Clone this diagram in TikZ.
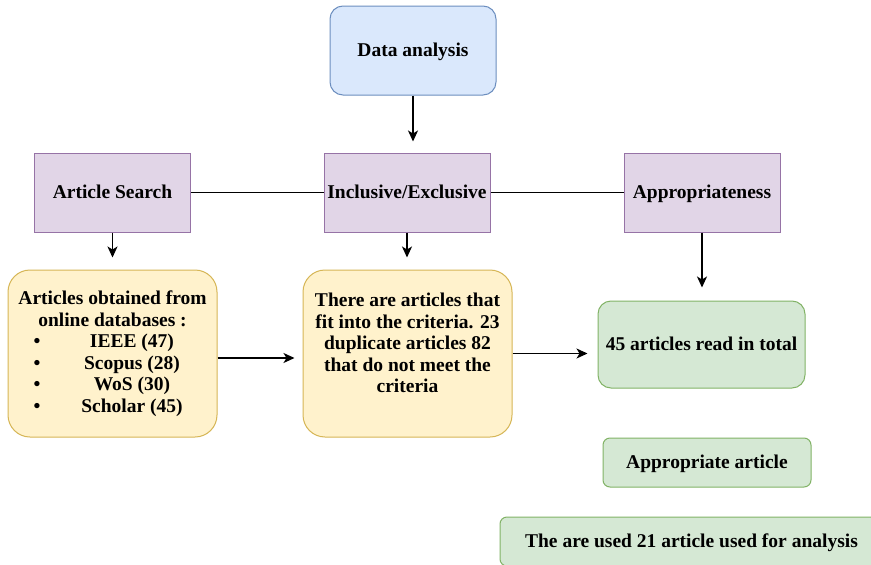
\documentclass[tikz,border=0pt]{standalone}
\usepackage{fontspec}
\setmainfont{Liberation Serif}
\usetikzlibrary{arrows.meta}
\definecolor{blueF}{HTML}{DAE8FC}
\definecolor{blueD}{HTML}{6C8EBF}
\definecolor{purpF}{HTML}{E1D5E7}
\definecolor{purpD}{HTML}{9673A6}
\definecolor{yelF}{HTML}{FFF2CC}
\definecolor{yelD}{HTML}{D6B656}
\definecolor{grnF}{HTML}{D5E8D4}
\definecolor{grnD}{HTML}{82B366}
\tikzset{
  box/.style={draw, line width=1pt, inner sep=0pt, align=center, font=\fontsize{19.5}{21.5}\selectfont\bfseries},
  one/.style={text height=13pt, text depth=1pt},
  bluebox/.style={box, fill=blueF, draw=blueD},
  purpbox/.style={box, one, fill=purpF, draw=purpD, minimum width=156pt, minimum height=79pt},
  yelbox/.style={box, fill=yelF, draw=yelD, minimum width=209pt, minimum height=167pt, rounded corners=22pt},
  grnbox/.style={box, fill=grnF, draw=grnD},
  arr/.style={line width=1.5pt, -{Stealth[length=11pt,width=10pt,inset=3pt]}},
  link/.style={line width=1.5pt}
}
\begin{document}
\begin{tikzpicture}[x=1pt,y=-1pt]
\useasboundingbox (0,0) rectangle (871,565);
\clip (0,0) rectangle (871,565);
\fill[white] (0,0) rectangle (871,565);
\node[bluebox, one, minimum width=166pt, minimum height=89pt, rounded corners=13pt] (da) at (413,50.5) {Data analysis};
\node[purpbox] (as) at (112.5,192.5) {Article Search};
\node[purpbox, minimum width=166pt] (ie) at (407,192.5) {Inclusive/Exclusive};
\node[purpbox] (ap) at (702,192.5) {Appropriateness};
\node[yelbox] (y1) at (112.5,353.5) {Articles obtained from\\online databases :\\
\makebox[190pt][l]{\makebox[39pt]{\textbullet}\makebox[151pt]{IEEE (47)}}\\
\makebox[190pt][l]{\makebox[39pt]{\textbullet}\makebox[151pt]{Scopus (28)}}\\
\makebox[190pt][l]{\makebox[39pt]{\textbullet}\makebox[151pt]{WoS (30)}}\\
\makebox[190pt][l]{\makebox[39pt]{\textbullet}\makebox[151pt]{Scholar (45)}}};
\node[yelbox, text depth=21pt] (y2) at (407.5,353.5) {There are articles that\\fit into the criteria. 23\\duplicate articles 82\\that do not meet the\\criteria};
\node[grnbox, one, minimum width=207pt, minimum height=87pt, rounded corners=13pt] (g1) at (701.5,344.5) {45 articles read in total};
\node[grnbox, one, minimum width=208pt, minimum height=49pt, rounded corners=7pt] (g2) at (707,462.5) {Appropriate article};
\node[grnbox, one, minimum width=383pt, minimum height=49pt, rounded corners=7pt] (g3) at (691.5,541.5) {The are used 21 article used for analysis};
\draw[arr, shorten >=11pt] (da.south) -- (da.south |- ie.north);
\draw[link] (as.east) -- (ie.west);
\draw[link] (ie.east) -- (ap.west);
\draw[arr, shorten >=12pt] (as.south) -- (as.south |- y1.north);
\draw[arr, shorten >=12pt] (ie.south) -- (ie.south |- y2.north);
\draw[arr, shorten >=13pt] (ap.south) -- (ap.south |- g1.north);
\draw[arr, shorten >=8pt] ([yshift=-4.5pt]y1.east) -- ([yshift=-4.5pt]y2.west);
\draw[arr, shorten >=10pt] (y2.east) -- (y2.east -| g1.west);
\end{tikzpicture}
\end{document}
